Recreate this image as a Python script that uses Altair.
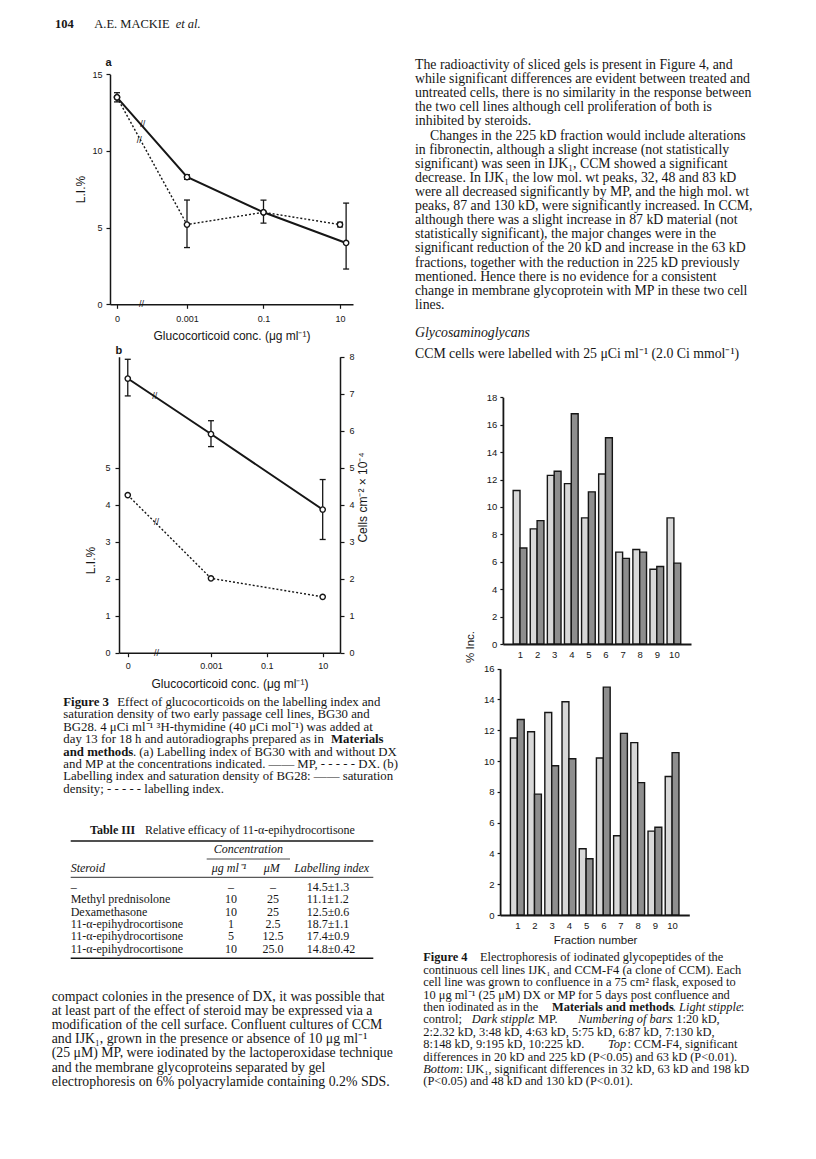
import altair as alt
import pandas as pd

W, H, M = 800, 1143, 8
INK = "#161616"
SANS = "Liberation Sans"
SERIF = "Liberation Serif"

# ---------------- Figure 3a : labelling index of BG30 ----------------
conc_labels = ["0", "0.001", "0.1", "10"]
a_tick_pos = [-4.83, -3.0, -1.0, 1.0]
a_pos_mp = [-4.83, -3.0, -1.0, 1.16]
a_pos_dx = [-4.83, -3.0, -1.0, 1.0]
a_mp = [13.5, 8.3, 6.0, 4.0]
a_mp_lo = [13.2, 8.15, 5.3, 2.3]
a_mp_hi = [13.8, 8.45, 6.8, 6.6]
a_dx = [13.5, 5.2, 6.0, 5.2]
a_dx_lo = [13.5, 3.7, 6.0, 5.05]
a_dx_hi = [13.5, 6.8, 6.0, 5.35]
a_break_pos = [-4.16, -4.25, -4.19]
a_break_val = [11.74, 10.72, 0.0]

# ---------------- Figure 3b : BG28 ----------------
b_conc = ["0", "0.001", "10"]
b_tick_pos = [-5.98, -3.0, -1.0, 1.0]
b_pos = [-5.98, -3.0, 1.0]
b_density = [7.41, 5.91, 3.87]
b_density_lo = [6.94, 5.57, 3.06]
b_density_hi = [7.93, 6.27, 4.68]
b_li = [4.26, 2.01, 1.51]
b_break_pos = [-5.01, -4.95, -4.95]
b_break_val = [6.95, 3.52, 0.0]

# ---------------- Figure 4 : % incorporation per fraction ----------------
fractions = list(range(1, 11))
top_control = [11.2, 8.4, 12.3, 11.7, 9.2, 12.4, 6.7, 6.9, 5.45, 9.2]
top_mp = [7.0, 9.0, 12.6, 16.8, 11.1, 15.05, 6.25, 6.7, 5.65, 5.9]
bottom_control = [11.5, 11.9, 13.15, 13.85, 4.3, 10.2, 5.15, 11.2, 5.45, 9.0]
bottom_mp = [12.7, 7.85, 9.7, 10.15, 3.65, 14.8, 11.8, 8.6, 5.7, 10.55]

# ---------------- Table III ----------------
steroids = ["\u2013", "Methyl prednisolone", "Dexamethasone",
            "11-\u03b1-epihydrocortisone", "11-\u03b1-epihydrocortisone", "11-\u03b1-epihydrocortisone"]
conc_ug = ["\u2013", "10", "10", "1", "5", "10"]
conc_um = ["\u2013", "25", "25", "2.5", "12.5", "25.0"]
labelling = ["14.5\u00b11.3", "11.1\u00b11.2", "12.5\u00b10.6", "18.7\u00b11.1", "17.4\u00b10.9", "14.8\u00b10.42"]

# ---------------- page text ----------------
para_right = [
    "The radioactivity of sliced gels is present in Figure 4, and",
    "while significant differences are evident between treated and",
    "untreated cells, there is no similarity in the response between",
    "the two cell lines although cell proliferation of both is",
    "inhibited by steroids.",
    "Changes in the 225 kD fraction would include alterations",
    "in fibronectin, although a slight increase (not statistically",
    "significant) was seen in IJK\u2081, CCM showed a significant",
    "decrease. In IJK\u2081 the low mol. wt peaks, 32, 48 and 83 kD",
    "were all decreased significantly by MP, and the high mol. wt",
    "peaks, 87 and 130 kD, were significantly increased. In CCM,",
    "although there was a slight increase in 87 kD material (not",
    "statistically significant), the major changes were in the",
    "significant reduction of the 20 kD and increase in the 63 kD",
    "fractions, together with the reduction in 225 kD previously",
    "mentioned. Hence there is no evidence for a consistent",
    "change in membrane glycoprotein with MP in these two cell",
    "lines.",
]
para_left = [
    "compact colonies in the presence of DX, it was possible that",
    "at least part of the effect of steroid may be expressed via a",
    "modification of the cell surface. Confluent cultures of CCM",
    "and IJK\u2081, grown in the presence or absence of 10 \u03bcg ml\u207b\u00b9",
    "(25 \u03bcM) MP, were iodinated by the lactoperoxidase technique",
    "and the membrane glycoproteins separated by gel",
    "electrophoresis on 6% polyacrylamide containing 0.2% SDS.",
]

# approximate Times advance widths (1/1000 em) used only to chain mixed-style segments
_TW = dict(zip("abcdefghijklmnopqrstuvwxyz",
               [444, 500, 444, 500, 444, 333, 500, 500, 278, 278, 500, 278, 778,
                500, 500, 500, 500, 333, 389, 278, 500, 500, 722, 500, 500, 444]))
_TW.update(dict(zip("ABCDEFGHIJKLMNOPQRSTUVWXYZ",
                    [722, 667, 667, 722, 611, 556, 722, 722, 333, 389, 722, 611, 889,
                     722, 722, 556, 722, 667, 556, 611, 722, 722, 944, 722, 722, 611])))
_TW.update({" ": 250, ".": 250, ",": 250, ":": 278, ";": 278, "(": 333, ")": 333,
            "-": 333, "<": 564, "%": 833})


def tw(s, size, st="n"):
    f = 1.07 if st == "b" else (0.98 if st == "i" else 1.0)
    return sum(_TW.get(c, 500) for c in s) * size / 1000.0 * f


texts = []


def T(x, y, s, size, font=SERIF, weight="normal", style="normal", align="left", angle=0):
    texts.append(dict(x=x - M, y=y - M, text=s, size=size, font=font,
                      weight=weight, style=style, align=align, angle=angle))


def line(y, size, segs):
    """segs: (text, style n/b/i, x hint). A leading space in text means a word gap."""
    end = None
    for text, st, hint in segs:
        lead = len(text) - len(text.lstrip(" "))
        t = text.strip(" ")
        x = hint if end is None else max(hint, end + lead * 0.25 * size)
        T(x, y, t, size, weight="bold" if st == "b" else "normal",
          style="italic" if st == "i" else "normal")
        end = x + tw(t, size, st)


# running head
line(24, 12.5, [("104", "b", 55), (" A.E. MACKIE", "n", 94.3), (" et al.", "i", 175.7)])

# panel letters and the shared y title of Figure 4
T(105.5, 63.3, "a", 11, font=SANS, weight="bold")
T(115.5, 350.7, "b", 11, font=SANS, weight="bold")
T(471, 647, "% Inc.", 11.5, font=SANS, align="center", angle=270)

# right column paragraph
PS = 13.8
for i, s in enumerate(para_right):
    T(430 if i == 5 else 415, 65 + 14.11 * i, s, PS)
T(415, 333.3, "Glycosaminoglycans", PS, style="italic")
T(415, 354, "CCM cells were labelled with 25 \u03bcCi ml\u207b\u00b9 (2.0 Ci mmol\u207b\u00b9)", PS)

# left bottom paragraph
for i, s in enumerate(para_left):
    T(51.7, 997 + 14.1 * i, s, PS)

# Figure 3 caption
c3 = 12.46
cs = 12.8
y3 = 701.7
line(y3, cs, [("Figure 3", "b", 63.3), (" Effect of glucocorticoids on the labelling index and", "n", 117.3)])
T(63.3, y3 + c3, "saturation density of two early passage cell lines, BG30 and", cs)
T(63.3, y3 + 2 * c3, "BG28. 4 \u03bcCi ml\u207b\u00b9 \u00b3H-thymidine (40 \u03bcCi mol\u207b\u00b9) was added at", cs)
line(y3 + 3 * c3, cs, [("day 13 for 18 h and autoradiographs prepared as in", "n", 63.3),
                       (" Materials", "b", 331)])
line(y3 + 4 * c3, cs, [("and methods", "b", 63.3),
                       (". (a) Labelling index of BG30 with and without DX", "n", 0)])
T(63.3, y3 + 5 * c3, "and MP at the concentrations indicated. \u2014\u2014 MP, - - - - - DX. (b)", cs)
T(63.3, y3 + 6 * c3, "Labelling index and saturation density of BG28: \u2014\u2014 saturation", cs)
T(63.3, y3 + 7 * c3, "density; - - - - - labelling index.", cs)

# Table III
ts = 12
line(830, ts, [("Table III", "b", 90), (" Relative efficacy of 11-\u03b1-epihydrocortisone", "n", 145)])
T(248.3, 849.3, "Concentration", ts, style="italic", align="center")
T(70.7, 868, "Steroid", ts, style="italic")
T(229, 868, "\u03bcg ml\u207b\u00b9", ts, style="italic", align="center")
T(271.7, 868, "\u03bcM", ts, style="italic", align="center")
T(331.7, 868, "Labelling index", ts, style="italic", align="center")
for i in range(len(steroids)):
    yy = 886.7 + 12.4 * i
    T(70.7, yy, steroids[i], ts)
    T(231, yy, conc_ug[i], ts, align="center")
    T(273, yy, conc_um[i], ts, align="center")
    T(306.7, yy, labelling[i], ts)

# Figure 4 caption
c4 = 12.4
f4 = 12.4
y4 = 957.3
line(y4, f4, [("Figure 4", "b", 423.3), (" Electrophoresis of iodinated glycopeptides of the", "n", 480)])
T(423.3, y4 + c4, "continuous cell lines IJK\u2081 and CCM-F4 (a clone of CCM). Each", f4)
T(423.3, y4 + 2 * c4, "cell line was grown to confluence in a 75 cm\u00b2 flask, exposed to", f4)
T(423.3, y4 + 3 * c4, "10 \u03bcg ml\u207b\u00b9 (25 \u03bcM) DX or MP for 5 days post confluence and", f4)
line(y4 + 4 * c4, f4, [("then iodinated as in the", "n", 423.3), (" Materials and methods", "b", 552),
                       (".", "n", 0), (" Light stipple", "i", 672), (":", "n", 0)])
line(y4 + 5 * c4, f4, [("control;", "n", 423.3), (" Dark stipple", "i", 471.7), (": MP.", "n", 0),
                       (" Numbering of bars", "i", 578), (": 1:20 kD,", "n", 0)])
T(423.3, y4 + 6 * c4, "2:2.32 kD, 3:48 kD, 4:63 kD, 5:75 kD, 6:87 kD, 7:130 kD,", f4)
line(y4 + 7 * c4, f4, [("8:148 kD, 9:195 kD, 10:225 kD.", "n", 423.3), (" Top", "i", 608),
                       (": CCM-F4, significant", "n", 0)])
T(423.3, y4 + 8 * c4, "differences in 20 kD and 225 kD (P<0.05) and 63 kD (P<0.01).", f4)
line(y4 + 9 * c4, f4, [("Bottom", "i", 423.3),
                       (": IJK\u2081, significant differences in 32 kD, 63 kD and 198 kD", "n", 0)])
T(423.3, y4 + 10 * c4, "(P<0.05) and 48 kD and 130 kD (P<0.01).", f4)

text_df = pd.DataFrame(texts)

table_rules = pd.DataFrame([
    dict(x=70.7 - M, x2=373.3 - M, y=841 - M, w=1.6),
    dict(x=206.7 - M, x2=290 - M, y=859 - M, w=0.8),
    dict(x=70.7 - M, x2=373.3 - M, y=877.3 - M, w=0.9),
    dict(x=70.7 - M, x2=373.3 - M, y=958.3 - M, w=1.6),
])


# ---------------- helpers ----------------
def scale(d0, d1, p0, p1):
    return alt.Scale(domain=[d0, d1], range=[p0 - M, p1 - M], nice=False, zero=False)


def ax(**kw):
    base = dict(domainColor=INK, domainWidth=1.5, tickColor=INK, tickWidth=1.2, tickSize=4,
                labelFont=SANS, labelFontSize=9, labelColor=INK, titleFont=SANS,
                titleFontSize=12, titleColor=INK, titleFontWeight="normal", grid=False,
                labelFlush=False, labelOverlap=False, titleAlign="center", titleBaseline="middle")
    base.update(kw)
    return alt.Axis(**base)


def label_expr(pos, labels):
    expr = f"'{labels[-1]}'"
    for i in reversed(range(len(pos) - 1)):
        mid = (pos[i] + pos[i + 1]) / 2
        expr = f"datum.value < {mid:.3f} ? '{labels[i]}' : ({expr})"
    return expr


layers = []

# ---------------- Figure 3a layers ----------------
XA = scale(-5.013, 1.34, 110, 353)
YA = scale(0, 15, 304.3, 74.3)
a_df = pd.DataFrame({
    "series": ["MP"] * 4 + ["DX"] * 4,
    "conc": conc_labels * 2,
    "pos": a_pos_mp + a_pos_dx,
    "v": a_mp + a_dx,
    "lo": a_mp_lo + a_dx_lo,
    "hi": a_mp_hi + a_dx_hi,
})
a_err = a_df[a_df.hi > a_df.lo]
a_brk = pd.DataFrame({"pos": a_break_pos, "v": a_break_val})

layers.append(
    alt.Chart(a_df).transform_filter("datum.series == 'MP'")
    .mark_line(color=INK, strokeWidth=2)
    .encode(
        x=alt.X("pos:Q", scale=XA, axis=ax(
            orient="bottom", offset=(304.3 - M) - H, values=a_tick_pos,
            labelExpr=label_expr(a_tick_pos, conc_labels), labelPadding=6,
            title="Glucocorticoid conc. (\u03bcg ml\u207b\u00b9)", titleX=231.5 - M, titleY=335 - 304.3)),
        y=alt.Y("v:Q", scale=YA, axis=ax(
            orient="left", offset=-(110 - M), values=[0, 5, 10, 15], labelPadding=4,
            title="L.I.%", titleX=80 - 110, titleY=189 - M, titleAngle=270)),
    )
)
layers.append(
    alt.Chart(a_df).transform_filter("datum.series == 'DX'")
    .mark_line(color=INK, strokeWidth=1.4, strokeDash=[2, 2])
    .encode(x=alt.X("pos:Q", scale=XA, axis=None), y=alt.Y("v:Q", scale=YA, axis=None))
)
layers.append(
    alt.Chart(a_err).mark_rule(color=INK, strokeWidth=1.3)
    .encode(x=alt.X("pos:Q", scale=XA, axis=None), y=alt.Y("lo:Q", scale=YA, axis=None), y2="hi:Q")
)
layers.append(
    alt.Chart(a_err).transform_fold(["lo", "hi"], as_=["k", "cap"])
    .mark_tick(orient="horizontal", size=6, thickness=1.3, color=INK, opacity=1)
    .encode(x=alt.X("pos:Q", scale=XA, axis=None), y=alt.Y("cap:Q", scale=YA, axis=None))
)
layers.append(
    alt.Chart(a_df).mark_point(shape="circle", filled=True, fill="white", stroke=INK,
                               strokeWidth=1.4, size=28, opacity=1)
    .encode(x=alt.X("pos:Q", scale=XA, axis=None), y=alt.Y("v:Q", scale=YA, axis=None))
)
layers.append(
    alt.Chart(a_brk).mark_text(text="//", font=SANS, fontSize=9, color=INK)
    .encode(x=alt.X("pos:Q", scale=XA, axis=None), y=alt.Y("v:Q", scale=YA, axis=None))
)

# ---------------- Figure 3b layers ----------------
XB3 = scale(-6.294, 1.62, 119, 340)
YB3 = scale(0, 8, 652.7, 356.7)
b_df = pd.DataFrame({
    "conc": b_conc, "pos": b_pos, "density": b_density,
    "lo": b_density_lo, "hi": b_density_hi, "li": b_li,
})
b_pts = pd.DataFrame({"pos": b_pos * 2, "v": b_density + b_li})
b_brk = pd.DataFrame({"pos": b_break_pos, "v": b_break_val})

layers.append(
    alt.Chart(b_df).mark_line(color=INK, strokeWidth=1.4, strokeDash=[2, 2])
    .encode(
        x=alt.X("pos:Q", scale=XB3, axis=ax(
            orient="bottom", offset=(652.7 - M) - H, values=b_tick_pos,
            labelExpr=label_expr(b_tick_pos, conc_labels), labelPadding=5,
            title="Glucocorticoid conc. (\u03bcg ml\u207b\u00b9)", titleX=229.5 - M, titleY=683 - 652.7)),
        y=alt.Y("li:Q", scale=YB3, axis=ax(
            orient="left", offset=-(119 - M), values=[0, 1, 2, 3, 4, 5], labelPadding=5,
            title="L.I.%", titleX=90 - 119, titleY=560 - M, titleAngle=270)),
    )
)
layers.append(
    alt.Chart(b_df).mark_line(color=INK, strokeWidth=2)
    .encode(
        x=alt.X("pos:Q", scale=XB3, axis=None),
        y=alt.Y("density:Q", scale=YB3, axis=ax(
            orient="right", offset=(340 - M) - W, values=list(range(0, 9)), labelPadding=5,
            title="Cells cm\u207b\u00b2 \u00d7 10\u207b\u2074", titleX=362 - 340, titleY=497 - M,
            titleAngle=270)),
    )
)
layers.append(
    alt.Chart(b_df).mark_rule(color=INK, strokeWidth=1.3)
    .encode(x=alt.X("pos:Q", scale=XB3, axis=None), y=alt.Y("lo:Q", scale=YB3, axis=None), y2="hi:Q")
)
layers.append(
    alt.Chart(b_df).transform_fold(["lo", "hi"], as_=["k", "cap"])
    .mark_tick(orient="horizontal", size=6, thickness=1.3, color=INK, opacity=1)
    .encode(x=alt.X("pos:Q", scale=XB3, axis=None), y=alt.Y("cap:Q", scale=YB3, axis=None))
)
layers.append(
    alt.Chart(b_pts).mark_point(shape="circle", filled=True, fill="white", stroke=INK,
                                strokeWidth=1.4, size=28, opacity=1)
    .encode(x=alt.X("pos:Q", scale=XB3, axis=None), y=alt.Y("v:Q", scale=YB3, axis=None))
)
layers.append(
    alt.Chart(b_brk).mark_text(text="//", font=SANS, fontSize=9, color=INK)
    .encode(x=alt.X("pos:Q", scale=XB3, axis=None), y=alt.Y("v:Q", scale=YB3, axis=None))
)

# ---------------- Figure 4 layers ----------------
LIGHT, DARK = "#d8d8d8", "#8e8e8e"


def bar_layer(control, mp, xs, ys, x_axis_y, y_axis_x, ymax, title=None, title_y=None):
    df = pd.DataFrame({
        "frac": fractions * 2,
        "group": ["control"] * 10 + ["MP"] * 10,
        "v": control + mp,
    })
    xkw = dict(orient="bottom", offset=(x_axis_y - M) - H, values=fractions, format="d",
               tickSize=0, labelPadding=5, domainWidth=1.8, labelFontSize=9.5)
    if title:
        xkw.update(title=title, titleX=595 - M, titleY=title_y - x_axis_y, titleFontSize=11.5)
    xenc = alt.X("x0:Q", scale=xs, axis=ax(**xkw), title=title if title else None)
    return (
        alt.Chart(df)
        .transform_calculate(x0="datum.frac + (datum.group == 'MP' ? 0 : -0.4)",
                             x1="datum.frac + (datum.group == 'MP' ? 0.4 : 0)", base="0")
        .mark_rect(stroke=INK, strokeWidth=1.4, opacity=1)
        .encode(
            x=xenc, x2="x1:Q",
            y=alt.Y("v:Q", scale=ys, title=None, axis=ax(
                orient="left", offset=-(y_axis_x - M), values=list(range(0, ymax + 1, 2)),
                tickSize=3, labelPadding=3, labelFontSize=9.5, domainWidth=1.8)),
            y2="base:Q",
            fill=alt.Fill("group:N", scale=alt.Scale(domain=["control", "MP"], range=[LIGHT, DARK]),
                          legend=None),
        )
    )


layers.append(bar_layer(top_control, top_mp, scale(0, 11, 502.9, 691), scale(0, 18, 644, 397.3),
                        644, 502.9, 18))
layers.append(bar_layer(bottom_control, bottom_mp, scale(0, 11, 500.1, 689.3), scale(0, 16, 915, 668.7),
                        915, 500.1, 16, title="Fraction number", title_y=940.7))

# ---------------- table rules ----------------
layers.append(
    alt.Chart(table_rules).mark_rule(color=INK)
    .encode(x=alt.X("x:Q", scale=None), x2="x2:Q", y=alt.Y("y:Q", scale=None),
            strokeWidth=alt.StrokeWidth("w:Q", scale=None, legend=None))
)

# ---------------- page text ----------------
groups = text_df.groupby(["font", "weight", "style", "align", "angle"])
for (font, weight, style, align, angle), g in groups:
    layers.append(
        alt.Chart(g.reset_index(drop=True))
        .mark_text(font=font, fontWeight=weight, fontStyle=style, align=align,
                   baseline="middle", angle=int(angle), color=INK)
        .encode(x=alt.X("x:Q", scale=None), y=alt.Y("y:Q", scale=None), text="text:N",
                size=alt.Size("size:Q", scale=None, legend=None))
    )

chart = (
    alt.layer(*layers)
    .resolve_scale(x="independent", y="independent")
    .properties(width=W, height=H, autosize=alt.AutoSizeParams(type="none"), padding=0)
    .configure(background="white")
    .configure_view(strokeWidth=0)
)

chart.save("out.html", embed_options={"renderer": "svg", "actions": False})
